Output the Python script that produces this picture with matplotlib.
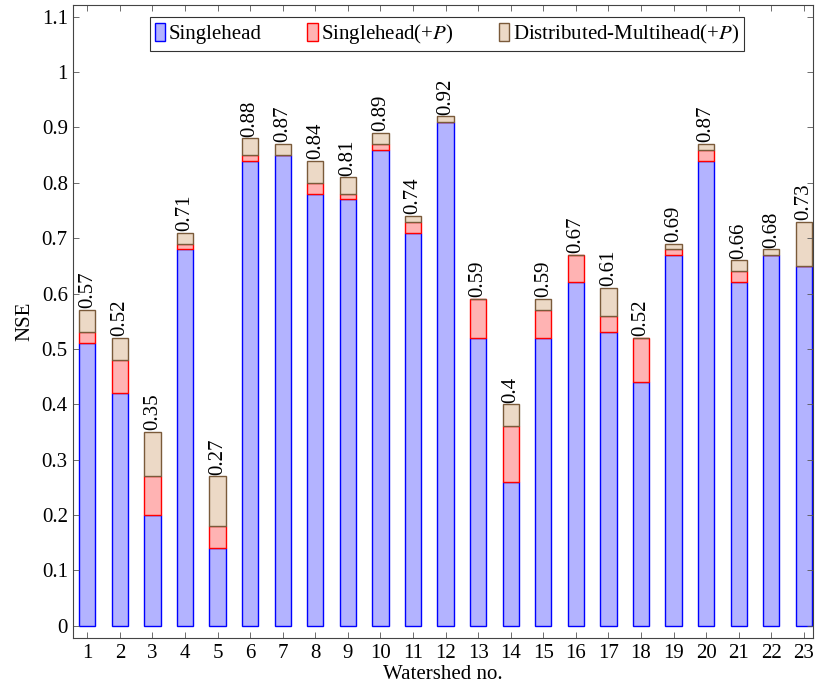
import matplotlib.pyplot as plt
from matplotlib.patches import Patch

plt.rcParams['font.family'] = ['Liberation Serif', 'DejaVu Serif']
plt.rcParams['mathtext.fontset'] = 'stix'

watersheds = list(range(1, 24))
singlehead = [0.51, 0.42, 0.20, 0.68, 0.14, 0.84, 0.85, 0.78, 0.77, 0.86, 0.71, 0.91,
              0.52, 0.26, 0.52, 0.62, 0.53, 0.44, 0.67, 0.84, 0.62, 0.67, 0.65]
singlehead_p = [0.02, 0.06, 0.07, 0.01, 0.04, 0.01, 0.00, 0.02, 0.01, 0.01, 0.02, 0.00,
                0.07, 0.10, 0.05, 0.05, 0.03, 0.08, 0.01, 0.02, 0.02, 0.00, 0.00]
multihead_p = [0.04, 0.04, 0.08, 0.02, 0.09, 0.03, 0.02, 0.04, 0.03, 0.02, 0.01, 0.01,
               0.00, 0.04, 0.02, 0.00, 0.05, 0.00, 0.01, 0.01, 0.02, 0.01, 0.08]

c_blue = ('#b3b3ff', '#0000ff')
c_red = ('#ffb3b3', '#ff0000')
c_brown = ('#ecd9c6', '#7a5a3a')
fs = 15

fig = plt.figure(figsize=(8.15, 6.88), dpi=100)
ax = fig.add_axes([0.09, 0.0727, 0.9075, 0.92])

w = 0.5
lw = 1.0
base2 = [a + b for a, b in zip(singlehead, singlehead_p)]
ax.bar(watersheds, singlehead, w, color=c_blue[0], edgecolor=c_blue[1], linewidth=lw)
ax.bar(watersheds, singlehead_p, w, bottom=singlehead, color=c_red[0], edgecolor=c_red[1], linewidth=lw)
ax.bar(watersheds, multihead_p, w, bottom=base2, color=c_brown[0], edgecolor=c_brown[1], linewidth=lw)

for x, b, m in zip(watersheds, base2, multihead_p):
    tot = round(b + m, 2)
    ax.text(x, tot + 0.003, f'{tot:g}', rotation=90, ha='center', va='bottom', fontsize=fs)

ax.set_xlim(0.57, 23.28)
ax.set_ylim(-0.022, 1.121)
ax.set_xticks(watersheds)
ax.set_yticks([i / 10 for i in range(12)])
ax.set_yticklabels(['0'] + [f'{i/10:g}' for i in range(1, 10)] + ['1', '1.1'])
ax.tick_params(direction='in', top=True, right=True, labelsize=fs, length=4, width=0.6,
               color='#555555', pad=4)
for s in ax.spines.values():
    s.set_color('#444444')
    s.set_linewidth(0.8)

ax.set_xlabel('Watershed no.', fontsize=fs, labelpad=2)
ax.set_ylabel('NSE', fontsize=fs, labelpad=5)

handles = [Patch(facecolor=c_blue[0], edgecolor=c_blue[1]),
           Patch(facecolor=c_red[0], edgecolor=c_red[1]),
           Patch(facecolor=c_brown[0], edgecolor=c_brown[1])]
labels = ['Singlehead', 'Singlehead(+$P$)', 'Distributed-Multihead(+$P$)']
leg = ax.legend(handles, labels, ncol=3, loc='upper center', bbox_to_anchor=(0.505, 0.981),
                fontsize=fs, frameon=True, fancybox=False, edgecolor='black',
                handlelength=0.5, handleheight=0.9, handletextpad=0.15, columnspacing=2.2,
                borderpad=0.25, borderaxespad=0.0)
leg.get_frame().set_linewidth(0.8)

fig.savefig('out.png', dpi=100)
